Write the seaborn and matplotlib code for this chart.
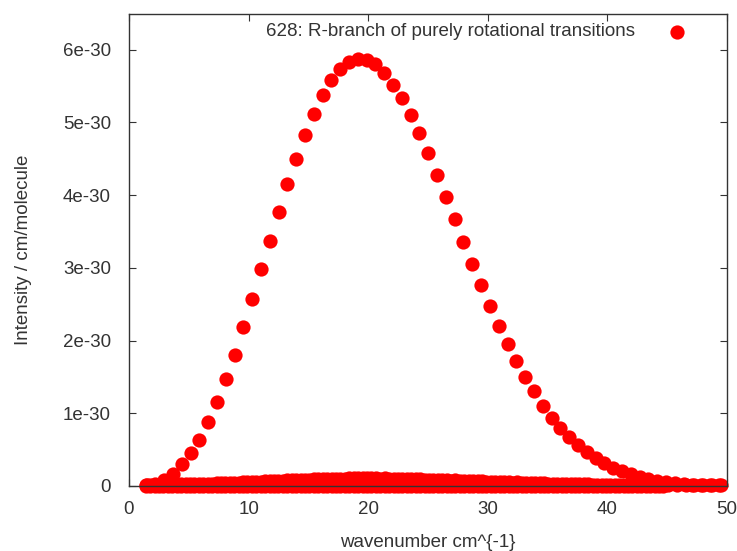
import pandas as pd
import numpy as np
import matplotlib
matplotlib.use("Agg")
import matplotlib.pyplot as plt
from matplotlib.ticker import FuncFormatter
import seaborn as sns

# Data (intensity in units of 1e-30 cm/molecule)
main_x = [1.47, 2.21, 2.94, 3.68, 4.42, 5.15, 5.89, 6.62, 7.36,
          8.10, 8.83, 9.57, 10.30, 11.04, 11.78, 12.51, 13.25, 13.98, 14.72,
          15.46, 16.19, 16.93, 17.66, 18.40, 19.14, 19.87, 20.61, 21.34, 22.08,
          22.82, 23.55, 24.29, 25.02, 25.76, 26.50, 27.23, 27.97, 28.70, 29.44,
          30.18, 30.91, 31.65, 32.38, 33.12, 33.86, 34.59, 35.33, 36.06, 36.80,
          37.54, 38.27, 39.01, 39.74, 40.48, 41.22, 41.95, 42.69, 43.42, 44.16,
          44.90, 45.63, 46.37, 47.10, 47.84, 48.58, 49.31]
main_y = [0.01, 0.03, 0.08, 0.17, 0.30, 0.45, 0.63, 0.88, 1.15,
          1.47, 1.80, 2.18, 2.57, 2.98, 3.37, 3.77, 4.15, 4.50, 4.83,
          5.12, 5.37, 5.58, 5.73, 5.83, 5.87, 5.86, 5.80, 5.68, 5.52,
          5.33, 5.10, 4.85, 4.58, 4.28, 3.98, 3.67, 3.35, 3.05, 2.77,
          2.48, 2.20, 1.95, 1.72, 1.50, 1.30, 1.10, 0.94, 0.80, 0.68,
          0.56, 0.47, 0.38, 0.31, 0.25, 0.20, 0.16, 0.12, 0.09, 0.07,
          0.05, 0.04, 0.03, 0.02, 0.015, 0.01, 0.007]

# weak lines forming the band near zero
weak_x = [1.40, 2.14, 2.88, 3.62, 4.36, 5.10, 5.84, 6.58, 7.32, 8.06,
          8.80, 9.54, 10.28, 11.02, 11.76, 12.50, 13.24, 13.98, 14.72, 15.46,
          16.20, 16.94, 17.68, 18.42, 19.16, 19.90, 20.64, 21.38, 22.12, 22.86,
          23.60, 24.34, 25.08, 25.82, 26.56, 27.30, 28.04, 28.78, 29.52, 30.26,
          31.00, 31.74, 32.48, 33.22, 33.96, 34.70, 35.44, 36.18, 36.92, 37.66,
          38.40, 39.14, 39.88, 40.62, 41.36, 42.10, 42.84, 43.58, 44.32, 45.06,
          45.80, 46.54, 47.28, 48.02, 48.76, 49.50]
weak_y = [0.010, 0.012, 0.015, 0.018, 0.021, 0.024, 0.028, 0.032, 0.036, 0.040,
          0.045, 0.050, 0.055, 0.060, 0.066, 0.072, 0.078, 0.083, 0.088, 0.092,
          0.096, 0.099, 0.101, 0.103, 0.104, 0.104, 0.104, 0.103, 0.101, 0.099,
          0.096, 0.092, 0.088, 0.084, 0.080, 0.076, 0.072, 0.068, 0.064, 0.060,
          0.056, 0.052, 0.048, 0.044, 0.040, 0.037, 0.034, 0.031, 0.028, 0.025,
          0.022, 0.020, 0.019, 0.018, 0.017, 0.016, 0.016, 0.016, 0.016, 0.016,
          0.016, 0.016, 0.016, 0.016, 0.016, 0.016]

weak2_x = [1.77, 2.51, 3.25, 3.99, 4.73, 5.47, 6.21, 6.95, 7.69, 8.43,
           9.17, 9.91, 10.65, 11.39, 12.13, 12.87, 13.61, 14.35, 15.09, 15.83,
           16.57, 17.31, 18.05, 18.79, 19.53, 20.27, 21.01, 21.75, 22.49, 23.23,
           23.97, 24.71, 25.45, 26.19, 26.93, 27.67, 28.41, 29.15, 29.89, 30.63,
           31.37, 32.11, 32.85, 33.59, 34.33, 35.07, 35.81, 36.55, 37.29, 38.03,
           38.77, 39.51, 40.25, 40.99, 41.73, 42.47, 43.21, 43.95, 44.69]
weak2_y = [0.009, 0.012, 0.015, 0.018, 0.021, 0.025, 0.028, 0.032, 0.036, 0.041,
           0.046, 0.051, 0.056, 0.062, 0.068, 0.074, 0.079, 0.084, 0.089, 0.093,
           0.096, 0.099, 0.101, 0.103, 0.103, 0.103, 0.102, 0.100, 0.097, 0.094,
           0.090, 0.086, 0.082, 0.078, 0.074, 0.070, 0.066, 0.062, 0.058, 0.054,
           0.050, 0.046, 0.042, 0.039, 0.036, 0.033, 0.030, 0.027, 0.024, 0.021,
           0.019, 0.018, 0.017, 0.016, 0.015, 0.014, 0.013, 0.012, 0.011]

# lines with (almost) zero intensity, drawn on both line grids up to ~45 cm^-1
base_y = [0.001, 0.001, 0.001, 0.001, 0.001, 0.001, 0.001, 0.001, 0.001, 0.001,
          0.001, 0.001, 0.001, 0.001, 0.001, 0.001, 0.001, 0.001, 0.001, 0.001,
          0.001, 0.001, 0.001, 0.001, 0.001, 0.001, 0.001, 0.001, 0.001, 0.001,
          0.001, 0.001, 0.001, 0.001, 0.001, 0.001, 0.001, 0.001, 0.001, 0.001,
          0.001, 0.001, 0.001, 0.001, 0.001, 0.001, 0.001, 0.001, 0.001, 0.001,
          0.001, 0.001, 0.001, 0.001, 0.001, 0.001, 0.001, 0.001, 0.001]

n_base = len(base_y)
df = pd.DataFrame({
    "wavenumber": main_x + weak_x + weak2_x + weak2_x[:n_base] + weak_x[:n_base],
    "intensity": np.array(main_y + weak_y + weak2_y + base_y + base_y) * 1e-30,
})

sns.set_style("ticks")
plt.rcParams['font.family'] = ['Liberation Sans', 'DejaVu Sans']

fs = 13.5
fig = plt.figure(figsize=(7.37, 5.51), dpi=100)
ax = fig.add_axes([0.175, 0.118, 0.8114, 0.8566])

sns.scatterplot(data=df, x="wavenumber", y="intensity", ax=ax,
                color="#ff0000", s=105, linewidth=0, marker="o",
                label="628: R-branch of purely rotational transitions")
for coll in ax.collections:
    coll.set_clip_on(False)

ax.set_xlim(0, 50)
ax.set_ylim(0, 6.49e-30)
ax.set_xticks([0, 10, 20, 30, 40, 50])
ax.set_yticks([i * 1e-30 for i in range(7)])
ax.yaxis.set_major_formatter(FuncFormatter(lambda v, p: "0" if abs(v) < 1e-40 else f"{v:.0e}"))

for sp in ax.spines.values():
    sp.set_color("#333333")
    sp.set_linewidth(1.0)
    sp.set_zorder(5)
ax.tick_params(direction="in", length=5, width=0.8, colors="#333333",
               labelcolor="#333333", labelsize=fs, top=True, right=True)
ax.tick_params(axis="y", pad=13)
ax.tick_params(axis="x", pad=11)

ax.set_xlabel("wavenumber cm^{-1}", fontsize=fs, color="#333333", labelpad=11)
ax.set_ylabel("Intensity / cm/molecule", fontsize=fs, color="#333333", labelpad=22)

leg = ax.legend(loc="upper right", frameon=False, markerfirst=False,
                fontsize=fs, handletextpad=1.2, borderaxespad=0.1,
                bbox_to_anchor=(0.963, 1.0), labelcolor="#333333")

fig.savefig("out.png", dpi=100)
